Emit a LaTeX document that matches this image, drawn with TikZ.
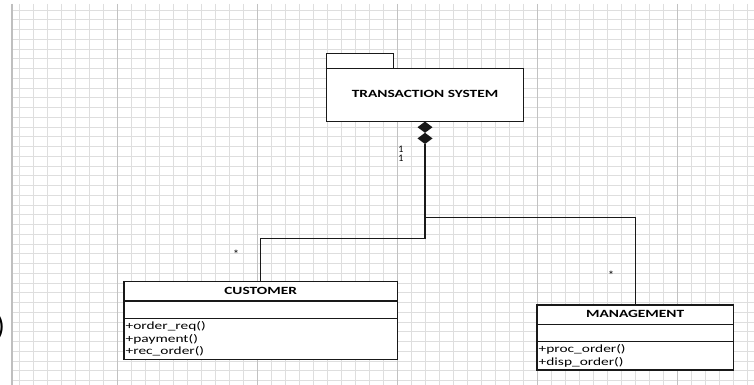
\documentclass[tikz,border=0pt]{standalone}
\usepackage{fontspec}
\setmainfont{Carlito}
\newfontfamily\umlfont[FakeStretch=1.4]{Carlito}
\usetikzlibrary{calc}
\begin{document}
\begin{tikzpicture}[x=1pt,y=-1pt,
  gridminor/.style={draw=black!13, line width=0.8pt},
  gridmajor/.style={draw=black!24, line width=0.9pt},
  umlline/.style={draw=black!90, line width=1.1pt},
  box/.style={draw=black!90, line width=1.1pt, fill=white, rectangle, inner sep=0pt},
  titletext/.style={font=\umlfont\bfseries\fontsize{11}{13}\selectfont, inner sep=0pt},
  pkgtext/.style={font=\umlfont\bfseries\fontsize{11}{13}\selectfont, inner sep=0pt},
  method/.style={font=\umlfont\fontsize{11}{12}\selectfont, inner sep=0pt, anchor=west},
  mult/.style={font=\fontsize{10}{11}\selectfont, inner sep=0pt}
]
\useasboundingbox (0,0) rectangle (754,385);
\fill[white] (0,0) rectangle (754,385);

% sheet grid
\foreach \k in {0,...,38}
  \draw[gridminor] (12,{10+9.75*\k}) -- (754,{10+9.75*\k});
\foreach \k in {0,...,52}
  \draw[gridminor] ({19+14*\k},4) -- ({19+14*\k},385);
\foreach \x in {117,257,397,537,677}
  \draw[gridmajor] (\x,4) -- (\x,385);
\draw[draw=black!25, line width=1.3pt] (12,4) -- (12,385);

% bracket at the left edge
\node[font=\fontsize{28}{30}\selectfont, anchor=east, inner sep=0pt] (paren) at (5,327) {)};

% package
\draw[box] (326.7,53.7) rectangle (393.3,68.3);
\node[box, minimum width=196.6pt, minimum height=52.7pt] (trans) at (425,94.7) {};
\node[pkgtext] (transname) at (425,94) {TRANSACTION SYSTEM};

% double composition diamond under the package
\fill[black!90] (trans.south) -- ++(7.5,5.6) -- ++(-7.5,5.6) -- ++(7.5,5.6) -- ++(-7.5,5.6)
  -- ++(-7.5,-5.6) -- ++(7.5,-5.6) -- ++(-7.5,-5.6) -- cycle;
\coordinate (dtip) at ($(trans.south)+(0,22.4)$);

% CUSTOMER class
\node[box, minimum width=273.3pt, minimum height=77.6pt] (cust) at (260.65,320.5) {};
\draw[umlline] (cust.west |- 0,301) -- (cust.east |- 0,301);
\draw[umlline] (cust.west |- 0,318.7) -- (cust.east |- 0,318.7);
\node[titletext] (custname) at (260.65,291) {CUSTOMER};
\node[method] (c1) at (125.5,326.7) {+order\_req()};
\node[method] (c2) at (125.5,339) {+payment()};
\node[method] (c3) at (125.5,351.7) {+rec\_order()};

% MANAGEMENT class
\node[box, minimum width=196.3pt, minimum height=65pt] (mgmt) at (635.15,337.5) {};
\draw[umlline] (mgmt.west |- 0,324.3) -- (mgmt.east |- 0,324.3);
\draw[umlline] (mgmt.west |- 0,341.7) -- (mgmt.east |- 0,341.7);
\node[titletext] (mgmtname) at (635.15,314) {MANAGEMENT};
\node[method] (m1) at (538.5,349) {+proc\_order()};
\node[method] (m2) at (538.5,362.7) {+disp\_order()};

% composition connectors
\coordinate (jc) at (425,238.7);
\coordinate (jm) at (425,217.7);
\draw[umlline] (cust.north) |- (jc) -- (dtip);
\draw[umlline] (mgmt.north) |- (jm);

% multiplicities
\node[mult] (one1) at (401,149) {1};
\node[mult] (one2) at (401,158) {1};
\node[mult, font=\fontsize{12}{12}\selectfont] (manyc) at (236,254) {*};
\node[mult, font=\fontsize{12}{12}\selectfont] (manym) at (611,275) {*};
\end{tikzpicture}
\end{document}
